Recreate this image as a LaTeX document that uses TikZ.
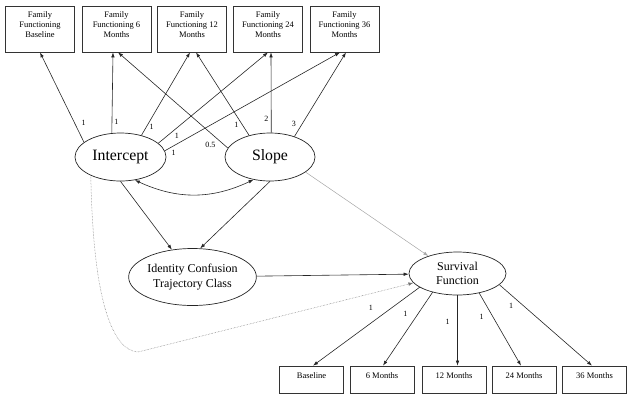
\documentclass[tikz,border=0pt]{standalone}
\usepackage{fontspec}
\setmainfont{Liberation Serif}
\usetikzlibrary{shapes.geometric,arrows.meta}

\tikzset{
	obs/.style={draw=black!80, line width=0.7pt, minimum width=69pt, minimum height=46pt, inner sep=0pt, align=center, font=\fontsize{8.5}{10}\selectfont},
	ind/.style={draw=black!80, line width=0.7pt, minimum width=64pt, inner xsep=0pt, inner ysep=0pt, text height=12pt, text depth=15pt, font=\fontsize{8.5}{10}\selectfont},
	latent/.style={shape=ellipse, draw=black!85, line width=0.7pt, inner sep=0pt, minimum width=91pt, minimum height=48pt, font=\fontsize{15.8}{18}\selectfont},
	factor/.style={shape=ellipse, draw=black!85, line width=0.7pt, inner sep=0pt, align=center, font=\fontsize{12}{14.5}\selectfont},
	reg/.style={line width=0.6pt, black!85, -{Latex[length=5pt,width=3.5pt]}},
	wt/.style={inner sep=1pt, black, font=\fontsize{8}{9}\selectfont},
}

\begin{document}
\begin{tikzpicture}[x=1pt, y=-1pt]
	\useasboundingbox (0,0) rectangle (631,400);
	
	\node[obs] (f0)  at (40,29)    {Family\\Functioning\\Baseline\\[-2pt]\mbox{}};
	\node[obs] (f6)  at (116.5,29) {Family\\Functioning 6\\Months\\[-2pt]\mbox{}};
	\node[obs] (f12) at (192,29)   {Family\\Functioning 12\\Months\\[-2pt]\mbox{}};
	\node[obs] (f24) at (268,29)   {Family\\Functioning 24\\Months\\[-2pt]\mbox{}};
	\node[obs] (f36) at (344.5,29) {Family\\Functioning 36\\Months\\[-2pt]\mbox{}};
	
	\node[latent] (int) at (120.5,157) {Intercept};
	\node[latent, minimum width=90pt] (slp) at (270,157) {Slope};
	\node[factor, minimum width=127pt, minimum height=57pt] (icc) at (192.5,277) {Identity Confusion\\Trajectory Class};
	\node[factor, minimum width=97pt, minimum height=43pt] (surv) at (457.5,273.5) {Survival\\Function};
	
	\node[ind] (b0)  at (311.5,379.5) {Baseline};
	\node[ind] (b6)  at (382,379.5)   {6 Months};
	\node[ind] (b12) at (454,379.5)   {12 Months};
	\node[ind] (b24) at (524,379.5)   {24 Months};
	\node[ind] (b36) at (594.5,379.5) {36 Months};
	
	% growth model loadings
	\path[reg] (int.158) edge node[wt, pos=.22, right=6pt] {1} (f0.south);
	\path[reg] (int.110) edge node[wt, pos=.14, right=1pt] {1} ([xshift=-3.5pt]f6.south);
	\path[reg] (int.46)  edge node[wt, pos=.1,  right=2pt] {1} ([xshift=-2pt]f12.south);
	\path[reg] (int.20)  edge node[wt, pos=.17, below=4pt] {1} (f24.south);
	\path[reg] (int.8)   edge node[wt, pos=.05, below=3pt] {1} ([xshift=-4.5pt]f36.south);
	
	\path[reg] (slp.168) edge node[wt, pos=.16, below=8pt] {0.5} ([xshift=1.5pt]f6.south);
	\path[reg] (slp.134) edge node[wt, pos=.13, left=2.5pt] {1} ([xshift=4pt]f12.south);
	\path[reg] (slp.87)  edge node[wt, pos=.17, left=1.5pt] {2} ([xshift=3pt]f24.south);
	\path[reg] (slp.40)  edge node[wt, pos=.15, left=5pt]   {3} ([xshift=1.5pt]f36.south);
	
	\path[reg, {Latex[length=5pt,width=3.5pt]}-{Latex[length=5pt,width=3.5pt]}] (int.-58) edge[bend right=25] (slp.-126);
	
	\path[reg] (int.south) edge (icc.127);
	\path[reg] (slp.south) edge (icc.75);
	\path[reg] (icc) edge (surv);
	\path[reg, black!35, line width=0.5pt] (slp.-23) edge (surv.149);
	
	% intercept to survival
	\coordinate (kink) at (138,352);
	\draw[reg, black!55, line width=0.5pt, densely dotted] (int.212) .. controls (93,300) and (112,350) .. (kink) -- (surv.192);
	
	% survival indicators
	\path[reg] (surv.-160) edge node[wt, pos=.38, above left=5pt] {1} ([xshift=1.5pt]b0.north);
	\path[reg] (surv.-143) edge node[wt, pos=.3,  left=9pt] {1} ([xshift=1pt]b6.north);
	\path[reg] (surv.south) edge node[wt, pos=.38, left=6.5pt] {1} (surv.south |- b12.north);
	\path[reg] (surv.-42) edge node[wt, pos=.33, left=8pt] {1} ([xshift=-3pt]b24.north);
	\path[reg] (surv.-15) edge node[wt, pos=.26, left=9pt] {1} ([xshift=-2.5pt]b36.north);
	
\end{tikzpicture}
\end{document}
